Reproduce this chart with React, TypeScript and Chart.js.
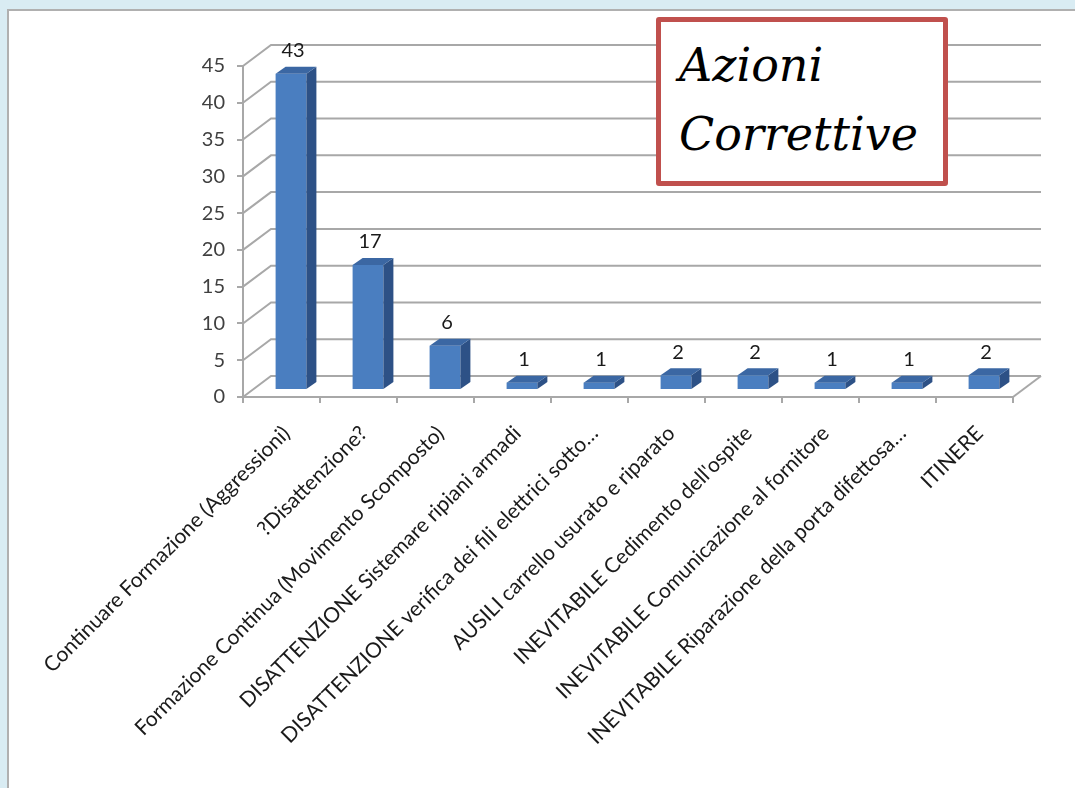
import React, { useEffect, useRef } from "react";
import { Chart, registerables } from "chart.js";

Chart.register(...registerables);

const categories: string[] = [
  "Continuare Formazione (Aggressioni)",
  "?Disattenzione?",
  "Formazione Continua (Movimento Scomposto)",
  "DISATTENZIONE Sistemare ripiani armadi",
  "DISATTENZIONE verifica dei fili elettrici sotto…",
  "AUSILI carrello usurato e riparato",
  "INEVITABILE Cedimento dell'ospite",
  "INEVITABILE Comunicazione al fornitore",
  "INEVITABILE Riparazione della porta difettosa…",
  "ITINERE",
];
const values: number[] = [43, 17, 6, 1, 1, 2, 2, 1, 1, 2];
const yTicks: number[] = [0, 5, 10, 15, 20, 25, 30, 35, 40, 45];
const titleLines: string[] = ["Azioni", "Correttive"];

const W = 1075;
const H = 788;
const GRID = "#a8a8a8";
const FONT = "Lato";

// 3D geometry (style)
const WALL = { dx: 28, dy: -21 };
const BAR_SHIFT = { dx: 9.5, dy: -7 };
const BAR_DEPTH = { dx: 10, dy: -7 };

const threeD = {
  id: "threeD",
  beforeDatasetsDraw(chart: any) {
    const { ctx, chartArea, scales } = chart;
    const ys = scales.y;
    const L = chartArea.left;
    const R = chartArea.right;
    ctx.save();
    ctx.strokeStyle = GRID;
    ctx.lineWidth = 2;
    yTicks.forEach((v) => {
      const y = ys.getPixelForValue(v);
      ctx.beginPath();
      ctx.moveTo(L, y);
      ctx.lineTo(L + WALL.dx, y + WALL.dy);
      ctx.lineTo(R + WALL.dx, y + WALL.dy);
      ctx.stroke();
    });
    const y0 = ys.getPixelForValue(0);
    ctx.beginPath();
    ctx.moveTo(R, y0);
    ctx.lineTo(R + WALL.dx, y0 + WALL.dy);
    ctx.stroke();
    ctx.restore();
    ctx.save();
    ctx.translate(BAR_SHIFT.dx, BAR_SHIFT.dy);
  },
  afterDatasetsDraw(chart: any) {
    const { ctx } = chart;
    const meta = chart.getDatasetMeta(0);
    meta.data.forEach((bar: any) => {
      const w = bar.width;
      const l = bar.x - w / 2;
      const r = bar.x + w / 2;
      const t = bar.y;
      const b = bar.base;
      // side
      ctx.fillStyle = "#2d5186";
      ctx.beginPath();
      ctx.moveTo(r, t);
      ctx.lineTo(r + BAR_DEPTH.dx, t + BAR_DEPTH.dy);
      ctx.lineTo(r + BAR_DEPTH.dx, b + BAR_DEPTH.dy);
      ctx.lineTo(r, b);
      ctx.closePath();
      ctx.fill();
      // top
      ctx.fillStyle = "#3b67a3";
      ctx.beginPath();
      ctx.moveTo(l, t);
      ctx.lineTo(r, t);
      ctx.lineTo(r + BAR_DEPTH.dx, t + BAR_DEPTH.dy);
      ctx.lineTo(l + BAR_DEPTH.dx, t + BAR_DEPTH.dy);
      ctx.closePath();
      ctx.fill();
    });
    ctx.restore();
    // value labels
    ctx.save();
    ctx.fillStyle = "#1a1a1a";
    ctx.font = `20px ${FONT}`;
    ctx.textAlign = "center";
    ctx.textBaseline = "middle";
    meta.data.forEach((bar: any, i: number) => {
      ctx.fillText(
        String(values[i]),
        bar.x + BAR_SHIFT.dx + 2,
        bar.y + BAR_SHIFT.dy - 23
      );
    });
    ctx.restore();
  },
};

export default function App() {
  const ref = useRef<HTMLCanvasElement | null>(null);
  useEffect(() => {
    if (!ref.current) return;
    const chart = new Chart(ref.current, {
      type: "bar",
      data: {
        labels: categories,
        datasets: [
          {
            data: values,
            backgroundColor: "#4a7ec0",
            borderWidth: 0,
            barPercentage: 0.4,
            categoryPercentage: 1,
            clip: false as any,
          },
        ],
      },
      options: {
        responsive: false,
        animation: false,
        events: [],
        layout: { padding: { left: 0, right: 62, top: 66, bottom: 0 } },
        plugins: {
          legend: { display: false },
          tooltip: { enabled: false },
          title: { display: false },
        },
        scales: {
          x: {
            offset: true,
            grid: {
              drawOnChartArea: false,
              drawTicks: true,
              tickLength: 6,
              color: GRID,
              lineWidth: 2,
              offset: true,
            },
            border: { display: true, color: GRID, width: 2 },
            ticks: {
              autoSkip: false,
              minRotation: 45,
              maxRotation: 45,
              padding: 18,
              labelOffset: 5,
              color: "#1a1a1a",
              font: { family: FONT, size: 21 },
            },
            afterFit: (s: any) => {
              s.height = 391;
            },
          },
          y: {
            min: 0,
            max: 45,
            ticks: {
              stepSize: 5,
              padding: 12,
              color: "#404040",
              font: { family: FONT, size: 20 },
            },
            grid: {
              drawOnChartArea: false,
              drawTicks: true,
              tickLength: 6,
              color: GRID,
              lineWidth: 2,
            },
            border: { display: true, color: GRID, width: 2 },
            afterFit: (s: any) => {
              s.width = 243;
            },
          },
        },
      },
      plugins: [threeD],
    });
    return () => chart.destroy();
  }, []);

  return (
    <div
      style={{
        position: "fixed",
        left: 0,
        top: 0,
        width: W,
        height: H,
        background: "#d9ecf3",
        overflow: "hidden",
      }}
    >
      <div
        style={{
          position: "absolute",
          left: 7,
          top: 9,
          width: W + 20,
          height: H + 20,
          background: "#ffffff",
          borderLeft: "2px solid #b0b0b0",
          borderTop: "2px solid #b0b0b0",
        }}
      />
      <canvas
        ref={ref}
        width={W}
        height={H}
        style={{ position: "absolute", left: 0, top: 0, width: W, height: H }}
      />
      <div
        style={{
          position: "absolute",
          left: 656,
          top: 17,
          width: 292,
          height: 169,
          boxSizing: "border-box",
          border: "5px solid #c0504d",
          borderRadius: 3,
          background: "#ffffff",
        }}
      />
      {titleLines.map((t, i) => (
        <div
          key={t}
          style={{
            position: "absolute",
            left: 679,
            top: 42 + i * 69,
            fontFamily: "'DejaVu Serif', serif",
            fontStyle: "italic",
            fontSize: 46,
            lineHeight: "46px",
            color: "#000",
            whiteSpace: "nowrap",
          }}
        >
          {t}
        </div>
      ))}
    </div>
  );
}
